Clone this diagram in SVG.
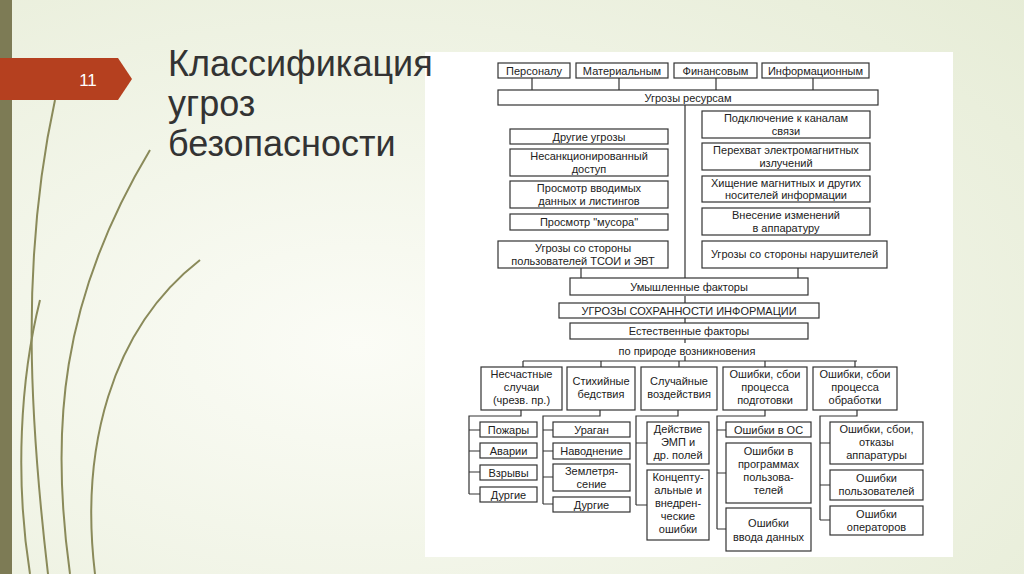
<svg xmlns="http://www.w3.org/2000/svg" width="1024" height="574" viewBox="0 0 1024 574">
<defs>
<radialGradient id="bg" cx="0.35" cy="0.6" r="0.9"><stop offset="0" stop-color="#fbfcf6"/><stop offset="1" stop-color="#e6ecd6"/></radialGradient>
<style>
.b{fill:#fff;stroke:#333;stroke-width:1.2}
.c{fill:none;stroke:#333;stroke-width:1.2}
.t{font-family:"Liberation Sans",Arial,sans-serif;font-size:11px;fill:#222;text-anchor:middle}
.d{fill:none;stroke:#8a8a5a;stroke-width:2}
</style>
</defs>
<rect width="1024" height="574" fill="url(#bg)"/>
<rect x="0" y="0" width="12" height="574" fill="#7d7b55"/>
<g id="decor">
<path class="d" d="M48 574 C30 420 20 260 55 100"/>
<path class="d" d="M70 574 C50 430 60 300 150 150"/>
<path class="d" d="M95 574 C80 450 110 330 200 260"/>
<path class="d" d="M30 574 C15 480 20 380 40 300"/>
</g>
<path d="M0 58 H118 L132 79 L118 100 H0 Z" fill="#b5401f"/>
<text x="88" y="86" font-family="Liberation Sans,Arial,sans-serif" font-size="17" fill="#fff" text-anchor="middle">11</text>
<rect x="425" y="52" width="528" height="505" fill="#fff"/>
<g font-family="Liberation Sans,Arial,sans-serif" font-size="36" fill="#333">
<text x="168" y="76">Классификация</text>
<text x="168" y="116">угроз</text>
<text x="168" y="156">безопасности</text>
</g>
<g id="connectors">
<path class="c" d="M532 78V90M619 78V90M716 78V90M813 78V90M685 105V278M581 268V278M798 268V278M685 296V303M685 318V323M685 339V343M685 356V361M523 361H857M523 361V367M601 361V367M679 361V367M765 361V367M855 361V367"/>
<path class="c" d="M521 410V416H469V494M469 430H480M469 451H480M469 472H480M469 494H480"/>
<path class="c" d="M600 410V416H543V504M543 430H553M543 451H553M543 477H553M543 504H553"/>
<path class="c" d="M678 410V416H636V505M636 443H647M636 505H647"/>
<path class="c" d="M765 410V416H717V529M717 430H726M717 473H726M717 529H726"/>
<path class="c" d="M857 410V416H820V520M820 443H830M820 485H830M820 520H830"/>
</g>
<g id="n1"><rect class="b" x="498" y="63" width="72" height="15"/><text class="t" x="534" y="74.5">Персоналу</text></g>
<g id="n2"><rect class="b" x="576" y="63" width="92" height="15"/><text class="t" x="622" y="74.5">Материальным</text></g>
<g id="n3"><rect class="b" x="674" y="63" width="83" height="15"/><text class="t" x="715.5" y="74.5">Финансовым</text></g>
<g id="n4"><rect class="b" x="762" y="63" width="107" height="15"/><text class="t" x="815.5" y="74.5">Информационным</text></g>
<g id="n5"><rect class="b" x="498" y="90" width="380" height="15"/><text class="t" x="688" y="101.5">Угрозы ресурсам</text></g>
<g id="n6"><rect class="b" x="510" y="129" width="158" height="15"/><text class="t" x="589" y="140.5">Другие угрозы</text></g>
<g id="n7"><rect class="b" x="510" y="149" width="158" height="27"/><text class="t" x="589" y="160">Несанкционированный</text><text class="t" x="589" y="173">доступ</text></g>
<g id="n8"><rect class="b" x="510" y="181" width="158" height="27"/><text class="t" x="589" y="192">Просмотр вводимых</text><text class="t" x="589" y="205">данных и листингов</text></g>
<g id="n9"><rect class="b" x="510" y="214" width="158" height="16"/><text class="t" x="589" y="226">Просмотр "мусора"</text></g>
<g id="n10"><rect class="b" x="498" y="241" width="170" height="27"/><text class="t" x="583" y="252">Угрозы со стороны</text><text class="t" x="583" y="265">пользователей ТСОИ и ЭВТ</text></g>
<g id="n11"><rect class="b" x="702" y="111" width="168" height="27"/><text class="t" x="786" y="122">Подключение к каналам</text><text class="t" x="786" y="135">связи</text></g>
<g id="n12"><rect class="b" x="702" y="143" width="168" height="27"/><text class="t" x="786" y="154">Перехват электромагнитных</text><text class="t" x="786" y="167">излучений</text></g>
<g id="n13"><rect class="b" x="702" y="176" width="168" height="26"/><text class="t" x="786" y="187">Хищение магнитных и других</text><text class="t" x="786" y="199">носителей информации</text></g>
<g id="n14"><rect class="b" x="702" y="208" width="168" height="27"/><text class="t" x="786" y="219">Внесение изменений</text><text class="t" x="786" y="232">в аппаратуру</text></g>
<g id="n15"><rect class="b" x="702" y="241" width="185" height="27"/><text class="t" x="794.5" y="258">Угрозы со стороны нарушителей</text></g>
<g id="n16"><rect class="b" x="570" y="278" width="238" height="17"/><text class="t" x="689" y="290.5">Умышленные факторы</text></g>
<g id="n17"><rect class="b" x="559" y="303" width="260" height="15"/><text class="t" x="689" y="314.5">УГРОЗЫ СОХРАННОСТИ ИНФОРМАЦИИ</text></g>
<g id="n18"><rect class="b" x="570" y="323" width="238" height="16"/><text class="t" x="689" y="335">Естественные факторы</text></g>
<text class="t" x="687" y="355">по природе возникновения</text>
<g id="c1"><rect class="b" x="481" y="367" width="81" height="43"/><text class="t" x="521.5" y="378">Несчастные</text><text class="t" x="521.5" y="391">случаи</text><text class="t" x="521.5" y="404">(чрезв. пр.)</text></g>
<g id="c2"><rect class="b" x="567" y="367" width="68" height="43"/><text class="t" x="601" y="385">Стихийные</text><text class="t" x="601" y="398">бедствия</text></g>
<g id="c3"><rect class="b" x="641" y="367" width="76" height="43"/><text class="t" x="679" y="385">Случайные</text><text class="t" x="679" y="398">воздействия</text></g>
<g id="c4"><rect class="b" x="723" y="367" width="84" height="43"/><text class="t" x="765" y="378">Ошибки, сбои</text><text class="t" x="765" y="391">процесса</text><text class="t" x="765" y="404">подготовки</text></g>
<g id="c5"><rect class="b" x="813" y="367" width="84" height="43"/><text class="t" x="855" y="378">Ошибки, сбои</text><text class="t" x="855" y="391">процесса</text><text class="t" x="855" y="404">обработки</text></g>
<g id="s1"><rect class="b" x="480" y="422" width="57" height="15"/><text class="t" x="508.5" y="433.5">Пожары</text></g>
<g id="s2"><rect class="b" x="480" y="443" width="57" height="15"/><text class="t" x="508.5" y="454.5">Аварии</text></g>
<g id="s3"><rect class="b" x="480" y="465" width="57" height="15"/><text class="t" x="508.5" y="476.5">Взрывы</text></g>
<g id="s4"><rect class="b" x="480" y="487" width="57" height="15"/><text class="t" x="508.5" y="498.5">Дургие</text></g>
<g id="s5"><rect class="b" x="553" y="422" width="77" height="15"/><text class="t" x="591.5" y="433.5">Ураган</text></g>
<g id="s6"><rect class="b" x="553" y="443" width="77" height="16"/><text class="t" x="591.5" y="455">Наводнение</text></g>
<g id="s7"><rect class="b" x="553" y="464" width="77" height="27"/><text class="t" x="591.5" y="475">Землетря-</text><text class="t" x="591.5" y="488">сение</text></g>
<g id="s8"><rect class="b" x="553" y="497" width="77" height="15"/><text class="t" x="591.5" y="508.5">Дургие</text></g>
<g id="s9"><rect class="b" x="647" y="422" width="62" height="42"/><text class="t" x="678" y="433">Действие</text><text class="t" x="678" y="446">ЭМП и</text><text class="t" x="678" y="459">др. полей</text></g>
<g id="s10"><rect class="b" x="647" y="470" width="62" height="70"/><text class="t" x="678" y="481">Концепту-</text><text class="t" x="678" y="494">альные и</text><text class="t" x="678" y="507">внедрен-</text><text class="t" x="678" y="520">ческие</text><text class="t" x="678" y="533">ошибки</text></g>
<g id="s11"><rect class="b" x="726" y="422" width="85" height="15"/><text class="t" x="768.5" y="433.5">Ошибки в ОС</text></g>
<g id="s12"><rect class="b" x="726" y="443" width="85" height="60"/><text class="t" x="768.5" y="455">Ошибки в</text><text class="t" x="768.5" y="468">программах</text><text class="t" x="768.5" y="481">пользова-</text><text class="t" x="768.5" y="494">телей</text></g>
<g id="s13"><rect class="b" x="726" y="508" width="85" height="43"/><text class="t" x="768.5" y="527">Ошибки</text><text class="t" x="768.5" y="541">ввода данных</text></g>
<g id="s14"><rect class="b" x="830" y="422" width="93" height="42"/><text class="t" x="876.5" y="433">Ошибки, сбои,</text><text class="t" x="876.5" y="446">отказы</text><text class="t" x="876.5" y="459">аппаратуры</text></g>
<g id="s15"><rect class="b" x="830" y="470" width="93" height="30"/><text class="t" x="876.5" y="482">Ошибки</text><text class="t" x="876.5" y="495">пользователей</text></g>
<g id="s16"><rect class="b" x="830" y="506" width="93" height="29"/><text class="t" x="876.5" y="518">Ошибки</text><text class="t" x="876.5" y="531">операторов</text></g>
</svg>
